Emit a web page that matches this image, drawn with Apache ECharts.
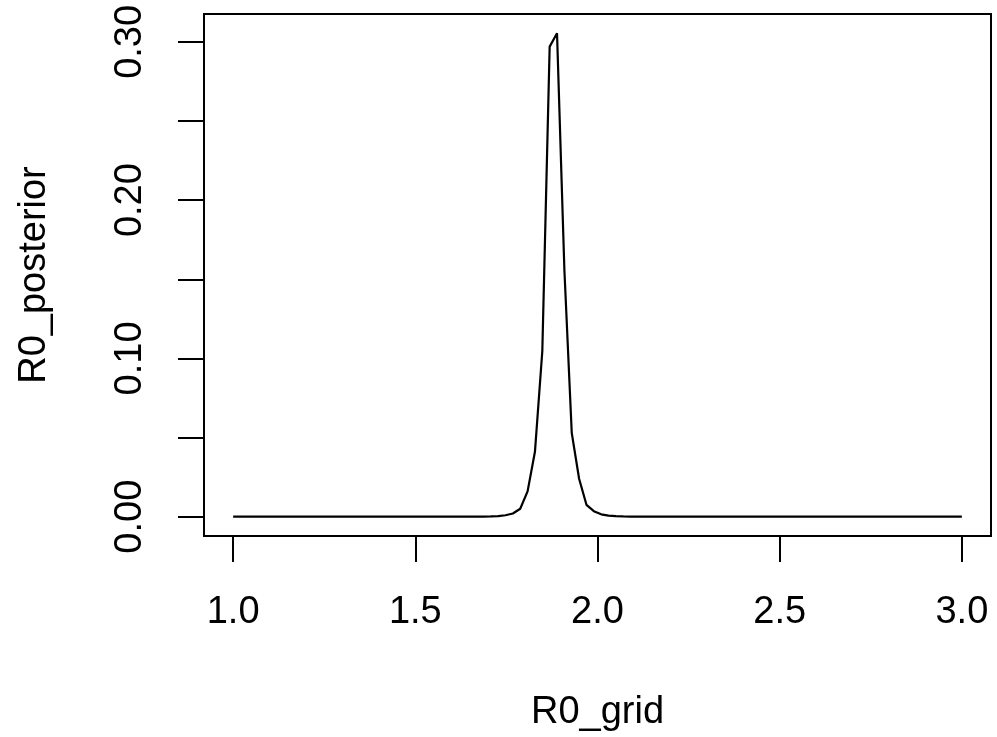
<!DOCTYPE html>
<html>
<head>
<meta charset="utf-8">
<script src="https://cdn.jsdelivr.net/npm/echarts@6/dist/echarts.min.js"></script>
<style>
html,body{margin:0;padding:0;background:#fff;}
#c{width:997px;height:737px;}
</style>
</head>
<body>
<div id="c"></div>
<script>
// R0 grid: 100 points from 1 to 3
const R0_grid = [
1.0000,1.0202,1.0404,1.0606,1.0808,1.1010,1.1212,1.1414,1.1616,1.1818,
1.2020,1.2222,1.2424,1.2626,1.2828,1.3030,1.3232,1.3434,1.3636,1.3838,
1.4040,1.4242,1.4444,1.4646,1.4848,1.5051,1.5253,1.5455,1.5657,1.5859,
1.6061,1.6263,1.6465,1.6667,1.6869,1.7071,1.7273,1.7475,1.7677,1.7879,
1.8081,1.8283,1.8485,1.8687,1.8889,1.9091,1.9293,1.9495,1.9697,1.9899,
2.0101,2.0303,2.0505,2.0707,2.0909,2.1111,2.1313,2.1515,2.1717,2.1919,
2.2121,2.2323,2.2525,2.2727,2.2929,2.3131,2.3333,2.3535,2.3737,2.3939,
2.4141,2.4343,2.4545,2.4747,2.4949,2.5152,2.5354,2.5556,2.5758,2.5960,
2.6162,2.6364,2.6566,2.6768,2.6970,2.7172,2.7374,2.7576,2.7778,2.7980,
2.8182,2.8384,2.8586,2.8788,2.8990,2.9192,2.9394,2.9596,2.9798,3.0000
];
// posterior values
const R0_posterior = [
0,0,0,0,0,0,0,0,0,0,
0,0,0,0,0,0,0,0,0,0,
0,0,0,0,0,0,0,0,0,0,
0,0,0,0.00005,0.0001,0.0002,0.0004,0.0009,0.002,0.005,
0.016,0.041,0.1045,0.297,0.3054,0.156,0.053,0.024,0.0075,0.0035,
0.0015,0.0007,0.0003,0.00015,0.0001,0.00005,0,0,0,0,
0,0,0,0,0,0,0,0,0,0,
0,0,0,0,0,0,0,0,0,0,
0,0,0,0,0,0,0,0,0,0,
0,0,0,0,0,0,0,0,0,0
];
const xTicks = [1.0, 1.5, 2.0, 2.5, 3.0];
const yTicks = [0, 0.05, 0.10, 0.15, 0.20, 0.25, 0.30];
const yTickLabels = [0, 0.10, 0.20, 0.30];
const xTitle = 'R0_grid';
const yTitle = 'R0_posterior';

const FONT = '"Liberation Sans", Arial, Helvetica, sans-serif';
const chart = echarts.init(document.getElementById('c'), null, {renderer: 'canvas'});
const pts = R0_grid.map((x, i) => [x, R0_posterior[i]]);

chart.setOption({
  animation: false,
  backgroundColor: '#ffffff',
  grid: {
    left: 204, right: 6, top: 14, bottom: 201,
    show: true, borderColor: '#000', borderWidth: 2,
    containLabel: false, outerBoundsMode: 'none'
  },
  xAxis: {
    type: 'value', min: 0.92, max: 3.08,
    splitLine: {show: false},
    axisLine: {show: false, onZero: false},
    axisTick: {show: true, length: 26, inside: false, customValues: xTicks,
      lineStyle: {color: '#000', width: 2}},
    axisLabel: {show: true, customValues: xTicks, margin: 58,
      color: '#000', fontFamily: FONT, fontSize: 38,
      formatter: v => Number(v).toFixed(1)},
    name: xTitle, nameLocation: 'middle', nameGap: 158,
    nameTextStyle: {color: '#000', fontFamily: FONT, fontSize: 38}
  },
  yAxis: {
    type: 'value', min: -0.0122, max: 0.3176,
    splitLine: {show: false},
    axisLine: {show: false, onZero: false},
    axisTick: {show: true, length: 26, inside: false, customValues: yTicks,
      lineStyle: {color: '#000', width: 2}},
    axisLabel: {show: true, customValues: yTickLabels, margin: 54, rotate: 90,
      color: '#000', fontFamily: FONT, fontSize: 38,
      formatter: v => Number(v).toFixed(2)},
    name: yTitle, nameLocation: 'middle', nameGap: 150,
    nameTextStyle: {color: '#000', fontFamily: FONT, fontSize: 38}
  },
  series: [{
    type: 'line', data: pts, showSymbol: false, symbol: 'none',
    lineStyle: {color: '#000', width: 2.2}, silent: true
  }]
});
</script>
</body>
</html>
